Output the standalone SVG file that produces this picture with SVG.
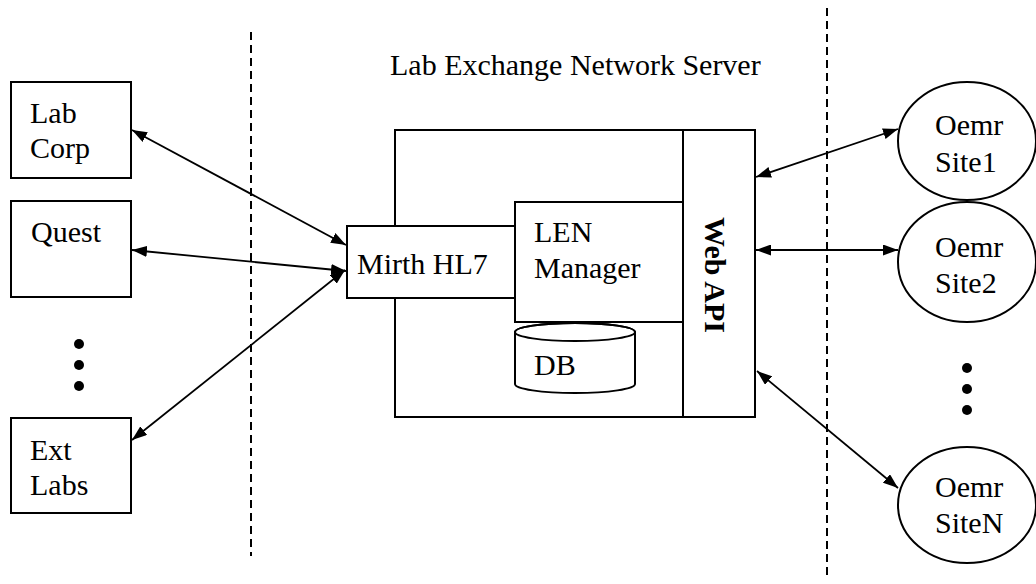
<svg xmlns="http://www.w3.org/2000/svg" width="1036" height="584" viewBox="0 0 1036 584">
<style>
  .box { fill: #fff; stroke: #000; stroke-width: 2; }
  .t { font-family: "Liberation Serif", "Times New Roman", serif; font-size: 30px; fill: #000; }
  .tb { font-family: "Liberation Serif", "Times New Roman", serif; font-size: 30px; font-weight: bold; fill: #000; }
  .dash { stroke: #000; stroke-width: 2; stroke-dasharray: 8 5; fill: none; }
  .conn { stroke: #000; stroke-width: 1.8; fill: none; marker-start: url(#ah); marker-end: url(#ah); }
  .dot { fill: #000; }
</style>
<defs>
  <marker id="ah" viewBox="0 0 15 11" refX="15" refY="5.5" markerWidth="15" markerHeight="11" markerUnits="userSpaceOnUse" orient="auto-start-reverse">
    <path d="M0,0 L15,5.5 L0,11 Z" fill="#000"/>
  </marker>
</defs>
<rect width="1036" height="584" fill="#fff"/>

<g id="boundaries">
  <line class="dash" x1="251" y1="32" x2="251" y2="556"/>
  <line class="dash" x1="827" y1="8" x2="827" y2="580"/>
</g>

<g id="title">
  <text class="t" x="390" y="75">Lab Exchange Network Server</text>
</g>

<g id="server">
  <rect class="box" x="395" y="130" width="360" height="287"/>
</g>

<g id="webapi">
  <rect class="box" x="683" y="130" width="72" height="287"/>
  <text class="tb" transform="translate(705,275) rotate(90)" text-anchor="middle">Web API</text>
</g>

<g id="len-manager">
  <rect class="box" x="515" y="202" width="168" height="120"/>
  <text class="t" x="534" y="242">LEN</text>
  <text class="t" x="534" y="278">Manager</text>
</g>

<g id="mirth">
  <rect class="box" x="347" y="226" width="168" height="72"/>
  <text class="t" x="357" y="274">Mirth HL7</text>
</g>

<g id="db">
  <path class="box" d="M515,332 L515,384 A60,9 0 0 0 635,384 L635,332 A60,9 0 0 0 515,332 Z"/>
  <ellipse cx="575" cy="332" rx="60" ry="9" fill="none" stroke="#000" stroke-width="2"/>
  <text class="t" x="534" y="375">DB</text>
</g>

<g id="labcorp">
  <rect class="box" x="11" y="82" width="120" height="96"/>
  <text class="t" x="30" y="123">Lab</text>
  <text class="t" x="30" y="158">Corp</text>
</g>

<g id="quest">
  <rect class="box" x="11" y="201" width="120" height="96"/>
  <text class="t" x="31" y="242">Quest</text>
</g>

<g id="left-dots">
  <circle class="dot" cx="79" cy="344" r="5"/>
  <circle class="dot" cx="79" cy="365" r="5"/>
  <circle class="dot" cx="79" cy="386" r="5"/>
</g>

<g id="extlabs">
  <rect class="box" x="11" y="418" width="120" height="95"/>
  <text class="t" x="30" y="460">Ext</text>
  <text class="t" x="30" y="495">Labs</text>
</g>

<g id="site1">
  <ellipse class="box" cx="967" cy="141" rx="69" ry="59"/>
  <text class="t" x="935" y="135">Oemr</text>
  <text class="t" x="935" y="172">Site1</text>
</g>

<g id="site2">
  <ellipse class="box" cx="967" cy="262" rx="69" ry="60"/>
  <text class="t" x="935" y="257">Oemr</text>
  <text class="t" x="935" y="293">Site2</text>
</g>

<g id="right-dots">
  <circle class="dot" cx="967" cy="368" r="5"/>
  <circle class="dot" cx="967" cy="389" r="5"/>
  <circle class="dot" cx="967" cy="410" r="5"/>
</g>

<g id="siteN">
  <ellipse class="box" cx="967" cy="505" rx="69" ry="58"/>
  <text class="t" x="935" y="497">Oemr</text>
  <text class="t" x="935" y="533">SiteN</text>
</g>

<g id="connectors">
  <line class="conn" x1="132" y1="130" x2="346" y2="245"/>
  <line class="conn" x1="132" y1="250" x2="346" y2="271"/>
  <line class="conn" x1="132" y1="440" x2="345" y2="270"/>
  <line class="conn" x1="756" y1="177" x2="898" y2="129"/>
  <line class="conn" x1="756" y1="250" x2="898" y2="250"/>
  <line class="conn" x1="757" y1="371" x2="898" y2="488"/>
</g>
</svg>
